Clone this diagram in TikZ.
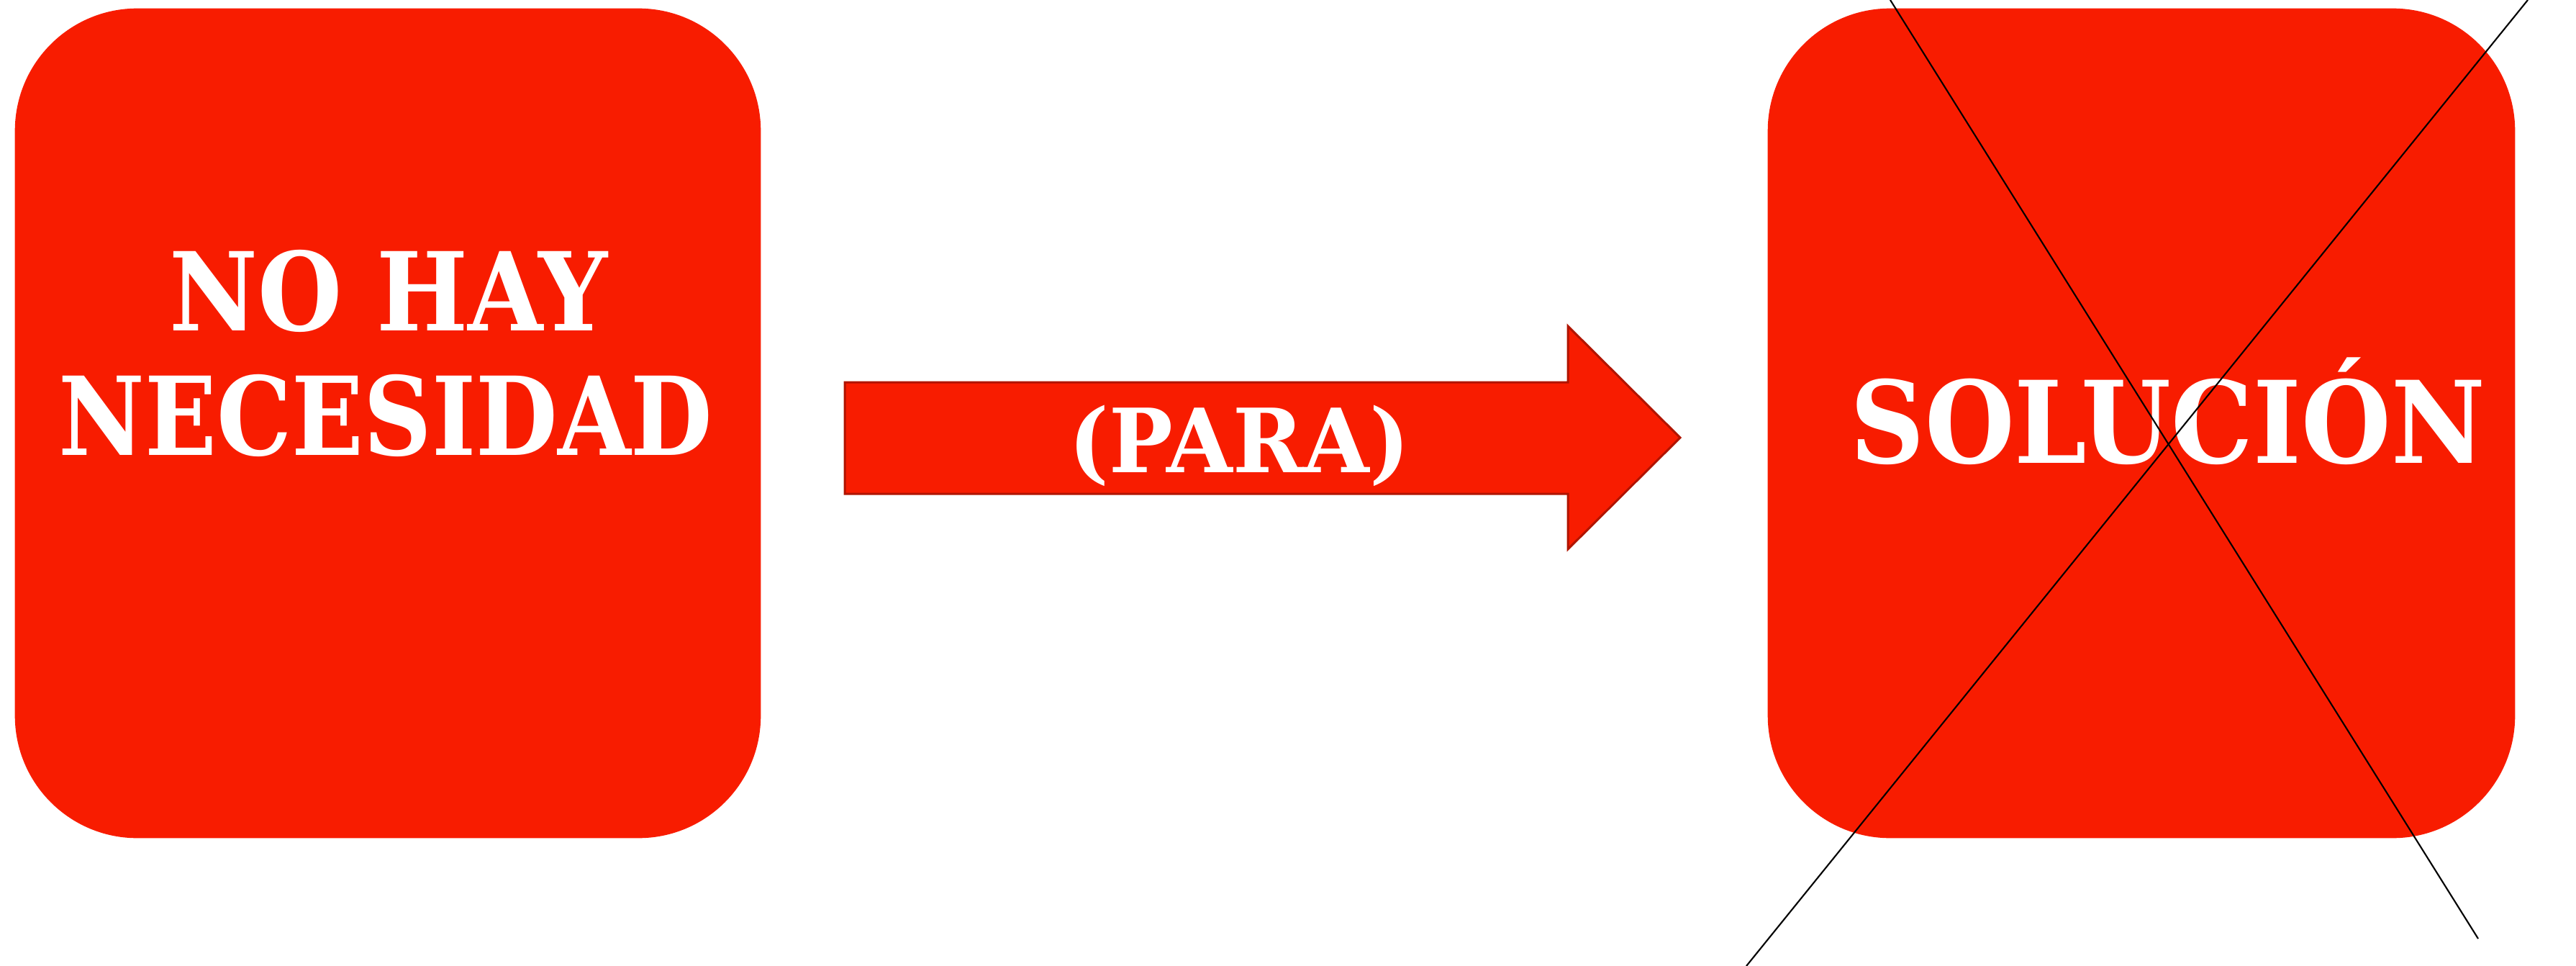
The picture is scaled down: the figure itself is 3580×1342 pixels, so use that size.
\documentclass[tikz,border=0pt]{standalone}
\usepackage{fontspec}
\setmainfont{DejaVu Serif}
\definecolor{boxred}{RGB}{248,28,0}
\definecolor{edgered}{RGB}{176,20,0}
\tikzset{
  card/.style={fill=boxred, draw=none, rounded corners=1.7cm, inner sep=0pt},
  label/.style={text=white, font=\bfseries, inner sep=0pt, anchor=base},
  crossline/.style={draw=black, line width=0.6pt},
}
\begin{document}
\begin{tikzpicture}[x=0.01cm, y=-0.01cm]
  \useasboundingbox (0,0) rectangle (3580,1342);
  \clip (0,0) rectangle (3580,1342);

  % left card
  \node[card, minimum width=10.36cm, minimum height=11.52cm] (left) at (539,588) {};
  \node[label, font=\bfseries\fontsize{43}{50}\selectfont] (nohay) at (540,459) {\scalebox{0.89}[1]{NO HAY}};
  \node[label, font=\bfseries\fontsize{43}{50}\selectfont] (necesidad) at (536,632) {\scalebox{0.867}[1]{NECESIDAD}};

  % block arrow
  \draw[fill=boxred, draw=edgered, line width=0.85pt, line join=miter]
    (1174,531) -- (2179,531) -- (2179,453) -- (2335,608) -- (2179,763)
    -- (2179,686) -- (1174,686) -- cycle;
  \node[label, font=\bfseries\fontsize{35}{40}\selectfont] (para) at (1722,656) {\scalebox{0.96}[1]{(PARA)}};

  % right card
  \node[card, minimum width=10.38cm, minimum height=11.52cm] (right) at (2976,588) {};
  \node[label, font=\bfseries\fontsize{45}{52}\selectfont] (solucion) at (3013,643) {\scalebox{0.905}[1]{SOLUCIÓN}};

  % crossing-out strokes
  \coordinate (a1) at (2627,0);
  \coordinate (a2) at (3444,1304);
  \coordinate (b1) at (3513,0);
  \coordinate (b2) at (2427,1342);
  \draw[crossline] (a1) -- (a2);
  \draw[crossline] (b1) -- (b2);
\end{tikzpicture}
\end{document}
